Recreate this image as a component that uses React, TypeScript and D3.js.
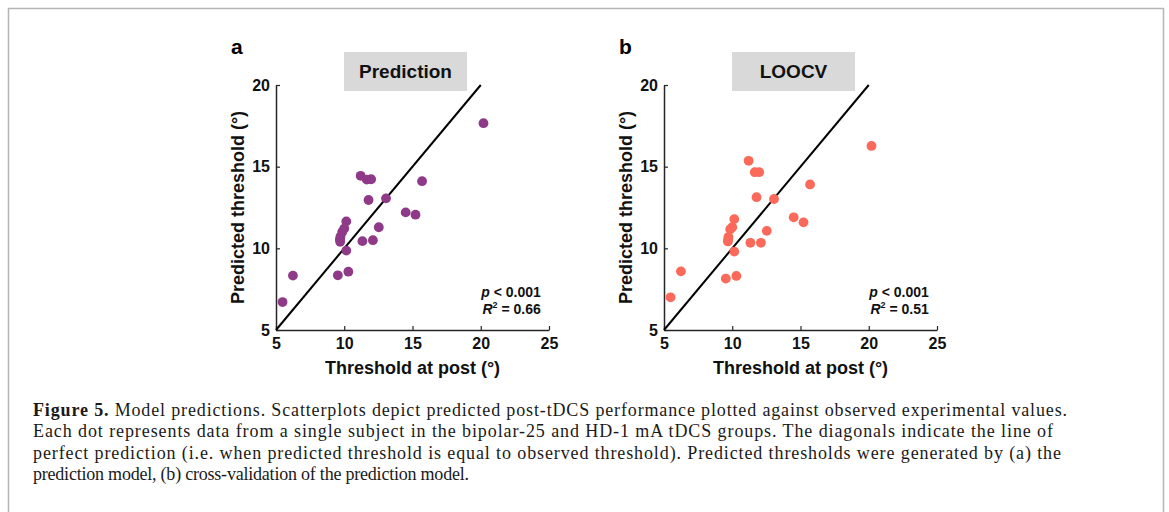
// App.tsx - two scatter panels (prediction vs LOOCV) with a serif caption
import * as d3 from 'd3';
import React, { useRef, useEffect } from 'react';

// observed threshold at post (deg), shared by both panels
const observed = [20.2, 11.2, 11.65, 11.97, 15.7, 11.78, 13.06, 14.5, 15.22, 10.15, 10.0, 9.85, 9.72, 9.68, 9.7, 12.53, 11.33, 12.1, 10.15, 9.53, 10.3, 6.24, 5.48];
// predicted threshold, prediction model
const predicted = [17.66, 14.44, 14.21, 14.23, 14.11, 12.96, 13.06, 12.2, 12.06, 11.65, 11.21, 11.0, 10.71, 10.54, 10.4, 11.29, 10.44, 10.5, 9.86, 8.35, 8.57, 8.33, 6.71];
// predicted threshold, leave-one-out cross-validation
const loocv = [16.27, 15.36, 14.66, 14.66, 13.91, 13.13, 13.02, 11.9, 11.59, 11.79, 11.29, 11.17, 10.69, 10.42, 10.55, 11.07, 10.34, 10.34, 9.8, 8.15, 8.31, 8.59, 7.0];

const xTicks = [5, 10, 15, 20, 25];
const yTicks = [5, 10, 15, 20];
const panels = [
  { letter: 'a', title: 'Prediction', values: predicted, p: '< 0.001', r2: '0.66', color: '#8e3a88' },
  { letter: 'b', title: 'LOOCV', values: loocv, p: '< 0.001', r2: '0.51', color: '#fa6959' },
];
const caption = [
  'Model predictions. Scatterplots depict predicted post-tDCS performance plotted against observed experimental values.',
  'Each dot represents data from a single subject in the bipolar-25 and HD-1 mA tDCS groups. The diagonals indicate the line of',
  'perfect prediction (i.e. when predicted threshold is equal to observed threshold). Predicted thresholds were generated by (a) the',
  'prediction model, (b) cross-validation of the prediction model.',
];
const captionWidths = [1034, 1020, 1028, 436];

const W = 1169, H = 512;
const font = 'Arial, "Liberation Sans", Helvetica, sans-serif';

function App() {
  const ref = useRef<SVGSVGElement>(null);

  useEffect(() => {
    const svg = d3.select(ref.current);
    svg.selectAll('*').remove();

    // frame
    svg.append('rect').attr('x', 8.5).attr('y', 8.5).attr('width', 1155).attr('height', 520)
      .attr('fill', 'none').attr('stroke', '#b5b5b5').attr('stroke-width', 1.5);

    const yScale = d3.scaleLinear().domain([5, 20]).range([330, 85]);

    panels.forEach((pn, k) => {
      const x0 = k === 0 ? 276 : 664;
      const xScale = d3.scaleLinear().domain([5, 25]).range([x0, x0 + 273]);
      const g = svg.append('g');

      // axes, MATLAB style inward ticks
      const xa = g.append('g').attr('transform', 'translate(0,330)')
        .call(d3.axisBottom(xScale).tickValues(xTicks).tickSizeInner(-4).tickSizeOuter(0).tickPadding(8));
      const ya = g.append('g').attr('transform', `translate(${x0},0)`)
        .call(d3.axisLeft(yScale).tickValues(yTicks).tickSizeInner(-4).tickSizeOuter(0).tickPadding(6));
      [xa, ya].forEach(a => {
        a.select('.domain').attr('stroke', '#262626').attr('stroke-width', 1.5);
        a.selectAll('.tick line').attr('stroke', '#262626').attr('stroke-width', 1.2);
        a.selectAll('.tick text').attr('fill', '#111').attr('font-size', 16)
          .attr('font-weight', 'bold').attr('font-family', font);
      });

      // line of perfect prediction
      g.append('line')
        .attr('x1', xScale(5)).attr('y1', yScale(5))
        .attr('x2', xScale(20)).attr('y2', yScale(20))
        .attr('stroke', '#000').attr('stroke-width', 2);

      g.selectAll('circle').data(pn.values).enter().append('circle')
        .attr('cx', (d, i) => xScale(observed[i]))
        .attr('cy', d => yScale(d))
        .attr('r', 4.9)
        .attr('fill', pn.color);

      // panel letter and title box
      g.append('text').attr('x', x0 - 45).attr('y', 54).text(pn.letter)
        .attr('font-size', 21).attr('font-weight', 'bold').attr('font-family', font);
      const bx = k === 0 ? 344 : 732;
      g.append('rect').attr('x', bx).attr('y', 52).attr('width', 123).attr('height', 39).attr('fill', '#d9d9d9');
      g.append('text').attr('x', bx + 61.5).attr('y', 78).attr('text-anchor', 'middle').text(pn.title)
        .attr('font-size', 19).attr('font-weight', 'bold').attr('font-family', font).attr('fill', '#111');

      // axis labels
      g.append('text').attr('x', (xScale(5) + xScale(25)) / 2).attr('y', 374).attr('text-anchor', 'middle')
        .text('Threshold at post (°)')
        .attr('font-size', 18).attr('font-weight', 'bold').attr('font-family', font).attr('fill', '#111');
      g.append('text').attr('transform', `translate(${x0 - 32},${yScale(12.5)}) rotate(-90)`)
        .attr('text-anchor', 'middle').text('Predicted threshold (°)')
        .attr('font-size', 18).attr('font-weight', 'bold').attr('font-family', font).attr('fill', '#111');

      // stats
      const sx = xScale(24.4);
      const t1 = g.append('text').attr('x', sx).attr('y', 297).attr('text-anchor', 'end')
        .attr('font-size', 14).attr('font-weight', 'bold').attr('font-family', font).attr('fill', '#111');
      t1.append('tspan').attr('font-style', 'italic').text('p');
      t1.append('tspan').text(' ' + pn.p);
      const t2 = g.append('text').attr('x', sx).attr('y', 314).attr('text-anchor', 'end')
        .attr('font-size', 14).attr('font-weight', 'bold').attr('font-family', font).attr('fill', '#111');
      t2.append('tspan').attr('font-style', 'italic').text('R');
      t2.append('tspan').attr('font-size', 9).attr('dy', -6).text('2');
      t2.append('tspan').attr('dy', 6).text(' = ' + pn.r2);
    });

    // caption
    caption.forEach((line, i) => {
      const t = svg.append('text').attr('x', 33).attr('y', 416 + i * 21.3)
        .attr('font-size', 18).attr('font-family', '"Liberation Serif", "Times New Roman", serif').attr('fill', '#1a1a1a')
        .attr('textLength', captionWidths[i]).attr('lengthAdjust', 'spacing');
      if (i === 0) t.append('tspan').attr('font-weight', 'bold').text('Figure 5. ');
      t.append('tspan').text(line);
    });
  }, []);

  return (
    <div className="chart" style={{ position: 'absolute', left: 0, top: 0 }}>
      <svg ref={ref} width={W} height={H} style={{ display: 'block', background: '#fff' }}></svg>
    </div>
  );
}

export default App;
